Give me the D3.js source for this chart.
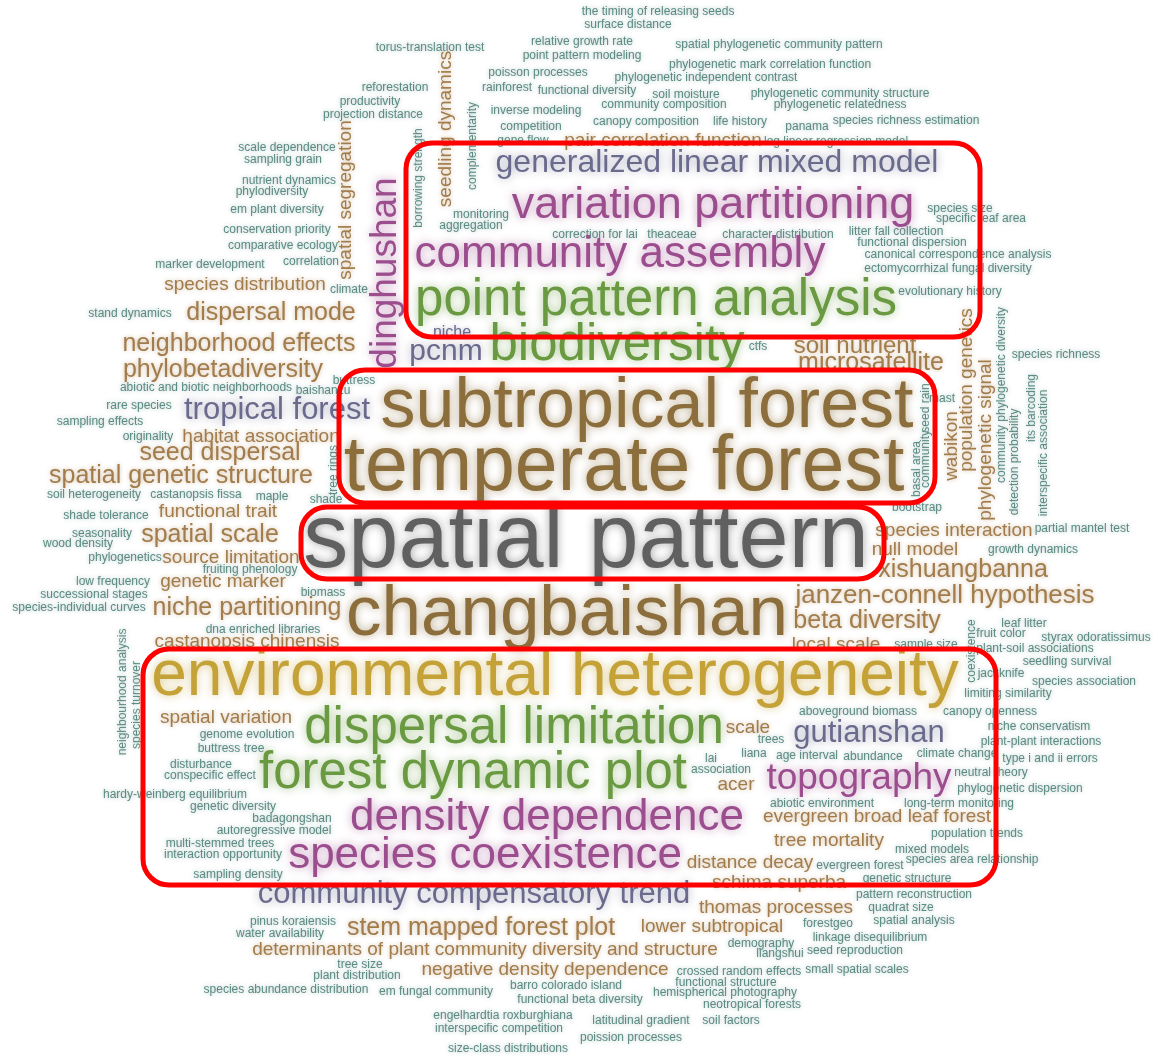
<!DOCTYPE html>
<meta charset="utf-8">
<script src="https://d3js.org/d3.v7.min.js"></script>
<style>
  body { margin: 0; background: #fff; }
  text { font-family: "Liberation Sans", Arial, sans-serif; }
</style>
<body>
<svg id="cloud" width="1153" height="1056"></svg>
<script>
// each word: [text, weight, x, y, rotate]  (x,y = layout position from the cloud)
var tealWords = [
  ["the timing of releasing seeds",1,658,15,0], ["surface distance",1,628,28,0],
  ["relative growth rate",1,582,45,0], ["spatial phylogenetic community pattern",1,779,48,0],
  ["torus-translation test",1,430,51,0], ["point pattern modeling",1,582,59,0],
  ["phylogenetic mark correlation function",1,770,68,0], ["poisson processes",1,538,76,0],
  ["phylogenetic independent contrast",1,706,81,0], ["reforestation",1,395,91,0],
  ["rainforest",1,507,91,0], ["functional diversity",1,587,94,0],
  ["soil moisture",1,686,98,0], ["phylogenetic community structure",1,840,97,0],
  ["productivity",1,370,105,0], ["community composition",1,664,108,0],
  ["phylogenetic relatedness",1,840,108,0], ["inverse modeling",1,536,114,0],
  ["projection distance",1,373,118,0], ["canopy composition",1,646,125,0],
  ["life history",1,740,125,0], ["species richness estimation",1,906,124,0],
  ["panama",1,807,130,0], ["competition",1,531,130,0],
  ["gene flow",1,523,144,0], ["log linear regression model",1,836,145,0],
  ["scale dependence",1,287,151,0], ["sampling grain",1,283,163,0],
  ["nutrient dynamics",1,289,184,0], ["phylodiversity",1,272,195,0],
  ["em plant diversity",1,277,213,0], ["conservation priority",1,277,233,0],
  ["comparative ecology",1,283,249,0], ["correlation",1,311,265,0],
  ["marker development",1,210,268,0], ["climate",1,349,293,0],
  ["stand dynamics",1,130,317,0], ["borrowing strength",1,422,178,-90],
  ["complementarity",1,476,146,-90], ["monitoring",1,481,218,0],
  ["aggregation",1,471,229,0], ["correction for lai",1,595,238,0],
  ["theaceae",1,672,238,0], ["character distribution",1,778,238,0],
  ["species size",1,960,212,0], ["specific leaf area",1,981,222,0],
  ["litter fall collection",1,896,235,0], ["functional dispersion",1,912,246,0],
  ["canonical correspondence analysis",1,958,258,0], ["ectomycorrhizal fungal diversity",1,948,272,0],
  ["evolutionary history",1,950,295,0], ["ctfs",1,758,350,0],
  ["species richness",1,1056,358,0], ["abiotic and biotic neighborhoods",1,206,391,0],
  ["baishanzu",1,323,394,0], ["buttress",1,354,384,0],
  ["rare species",1,139,409,0], ["sampling effects",1,100,425,0],
  ["originality",1,148,440,0], ["soil heterogeneity",1,94,498,0],
  ["castanopsis fissa",1,196,498,0], ["maple",1,272,500,0],
  ["tree rings",1,337,470,-90], ["shade",1,326,503,0],
  ["shade tolerance",1,106,519,0], ["seasonality",1,102,537,0],
  ["wood density",1,78,547,0], ["phylogenetics",1,125,561,0],
  ["fruiting phenology",1,250,573,0], ["low frequency",1,113,585,0],
  ["biomass",1,323,596,0], ["successional stages",1,94,598,0],
  ["species-individual curves",1,79,611,0], ["dna enriched libraries",1,263,633,0],
  ["neighbourhood analysis",1,126,692,-90], ["species turnover",1,140,705,-90],
  ["genome evolution",1,247,738,0], ["buttress tree",1,231,752,0],
  ["disturbance",1,201,768,0], ["conspecific effect",1,210,779,0],
  ["hardy-weinberg equilibrium",1,175,798,0], ["genetic diversity",1,233,810,0],
  ["badagongshan",1,292,822,0], ["autoregressive model",1,274,834,0],
  ["multi-stemmed trees",1,220,847,0], ["interaction opportunity",1,223,858,0],
  ["sampling density",1,238,878,0], ["pinus koraiensis",1,293,925,0],
  ["water availability",1,280,937,0], ["tree size",1,360,968,0],
  ["plant distribution",1,357,979,0], ["species abundance distribution",1,286,993,0],
  ["em fungal community",1,436,995,0], ["barro colorado island",1,566,989,0],
  ["functional beta diversity",1,580,1003,0], ["engelhardtia roxburghiana",1,503,1019,0],
  ["latitudinal gradient",1,641,1024,0], ["soil factors",1,731,1024,0],
  ["interspecific competition",1,499,1032,0], ["poission processes",1,631,1041,0],
  ["size-class distributions",1,508,1052,0], ["crossed random effects",1,739,975,0],
  ["functional structure",1,726,986,0], ["hemispherical photography",1,725,996,0],
  ["neotropical forests",1,752,1008,0], ["demography",1,761,947,0],
  ["liangshui",1,780,957,0], ["phylogenetic dispersion",1,1020,792,0],
  ["abiotic environment",1,822,807,0], ["long-term monitoring",1,959,807,0],
  ["population trends",1,977,837,0], ["mixed models",1,932,853,0],
  ["species area relationship",1,972,863,0], ["evergreen forest",1,860,869,0],
  ["genetic structure",1,907,882,0], ["pattern reconstruction",1,914,898,0],
  ["quadrat size",1,901,911,0], ["spatial analysis",1,914,924,0],
  ["forestgeo",1,828,927,0], ["linkage disequilibrium",1,870,941,0],
  ["seed reproduction",1,855,954,0], ["small spatial scales",1,857,973,0],
  ["partial mantel test",1,1082,532,0], ["growth dynamics",1,1033,553,0],
  ["sample size",1,926,648,0], ["coexistence",1,975,651,-90],
  ["leaf litter",1,1024,627,0], ["fruit color",1,1001,637,0],
  ["styrax odoratissimus",1,1096,641,0], ["plant-soil associations",1,1035,652,0],
  ["seedling survival",1,1067,665,0], ["jackknife",1,1001,677,0],
  ["species association",1,1084,685,0], ["limiting similarity",1,1008,697,0],
  ["aboveground biomass",1,858,715,0], ["canopy openness",1,990,715,0],
  ["niche conservatism",1,1039,730,0], ["plant-plant interactions",1,1041,745,0],
  ["trees",1,771,743,0], ["age interval",1,807,759,0],
  ["abundance",1,873,760,0], ["climate change",1,957,757,0],
  ["type i and ii errors",1,1050,762,0], ["neutral theory",1,991,776,0],
  ["liana",1,754,757,0], ["lai",1,711,762,0], ["association",1,721,773,0],
  ["seed rain",1,929,408,-90], ["community",1,929,459,-90],
  ["basal area",1,920,469,-90], ["mast",1,942,402,0], ["bootstrap",1,917,511,0],
  ["community phylogenetic diversity",1,1005,395,-90], ["detection probability",1,1018,462,-90],
  ["its barcoding",1,1035,408,-90], ["interspecific association",1,1047,453,-90]
];

var tanWords = [
  ["pair correlation function",8,663,146,0], ["seedling dynamics",8,451,129,-90],
  ["spatial segregation",8,351,200,-90], ["species distribution",8,245,290,0],
  ["dispersal mode",14,271,320,0], ["neighborhood effects",14,239,351,0],
  ["phylobetadiversity",14,223,377,0], ["habitat association",8,261,442,0],
  ["seed dispersal",14,220,460,0], ["spatial genetic structure",14,181,483,0],
  ["functional trait",8,218,517,0], ["spatial scale",14,210,542,0],
  ["source limitation",8,231,563,0], ["genetic marker",8,223,587,0],
  ["niche partitioning",14,247,615,0], ["castanopsis chinensis",8,247,647,0],
  ["spatial variation",8,226,723,0],
  ["determinants of plant community diversity and structure",8,485,955,0],
  ["stem mapped forest plot",14,481,935,0], ["negative density dependence",8,545,975,0],
  ["lower subtropical",8,712,932,0], ["thomas processes",8,776,913,0],
  ["distance decay",8,750,868,0], ["schima superba",8,779,888,0],
  ["tree mortality",8,829,846,0], ["evergreen broad leaf forest",8,877,822,0],
  ["acer",8,736,790,0], ["scale",8,748,733,0], ["local scale",8,836,650,0],
  ["beta diversity",14,867,628,0], ["janzen-connell hypothesis",15,945,603,0],
  ["xishuangbanna",14,963,577,0], ["null model",8,915,555,0],
  ["species interaction",8,954,536,0], ["soil nutrient",13,855,353,0],
  ["microsatellite",14,871,370,0], ["wabikon",8,957,446,-90],
  ["population genetics",8,972,390,-90], ["phylogenetic signal",8,991,440,-90]
];

var purpleWords = [
  ["variation partitioning",34,713,218,0], ["community assembly",33,620,267,0],
  ["dinghushan",26,396,273,-90], ["density dependence",33,547,830,0],
  ["species coexistence",33,485,868,0], ["topography",26,859,789,0]
];

var greenWords = [
  ["point pattern analysis",40,656,315,0], ["biodiversity",40,617,360,0],
  ["dispersal limitation",40,514,743,0], ["forest dynamic plot",40,473,788,0]
];

var slateWords = [
  ["generalized linear mixed model",21,717,172,0], ["pcnm",19,446,360,0],
  ["niche",5,452,337,0], ["tropical forest",20,277,419,0],
  ["gutianshan",20,869,742,0], ["community compensatory trend",20,474,903,0]
];

var oliveWords = [
  ["subtropical forest",59,647,427,0], ["temperate forest",66,624,490,0],
  ["changbaishan",60,567,635,0]
];
var goldWords = [["environmental heterogeneity",53,555,695,0]];
var greyWords = [["spatial pattern",79,586,567,0]];

// red highlight boxes: [x0, y0, x1, y1]
var boxes = [[406,143,980,337],[339,370,935,503],[301,507,884,579],[143,649,996,885]];

var svg = d3.select("#cloud"),
    width = +svg.attr("width"),
    height = +svg.attr("height");

var x = d3.scaleLinear().domain([0, 1153]).range([0, width]);
var y = d3.scaleLinear().domain([0, 1056]).range([0, height]);
var size = d3.scaleLinear().domain([1, 78]).range([12, 89]);

// soft halo round every word
var defs = svg.append("defs");
[["glowS", 2, 0.5], ["glowL", 5, 0.6]].forEach(function(f) {
  var flt = defs.append("filter").attr("id", f[0])
      .attr("x", "-10%").attr("y", "-40%").attr("width", "120%").attr("height", "180%");
  flt.append("feGaussianBlur").attr("in", "SourceGraphic").attr("stdDeviation", f[1]).attr("result", "b");
  flt.append("feComponentTransfer").attr("in", "b").attr("result", "b2")
     .append("feFuncA").attr("type", "linear").attr("slope", f[2]);
  var m = flt.append("feMerge");
  m.append("feMergeNode").attr("in", "b2");
  m.append("feMergeNode").attr("in", "SourceGraphic");
});

var groups = [
  {words: tealWords, color: "#5b8b83"},
  {words: tanWords, color: "#a27c4b"},
  {words: slateWords, color: "#6b6a8d"},
  {words: purpleWords, color: "#9b4d8e"},
  {words: greenWords, color: "#69993f"},
  {words: oliveWords, color: "#8b6e3b"},
  {words: goldWords, color: "#c4a238"},
  {words: greyWords, color: "#606060"}
];

groups.forEach(function(g) {
  svg.append("g")
    .selectAll("text")
    .data(g.words)
    .enter()
    .append("text")
      .attr("transform", function(d) { return "translate(" + x(d[2]) + "," + y(d[3]) + ") rotate(" + d[4] + ")"; })
      .attr("text-anchor", "middle")
      .attr("font-size", function(d) { return size(d[1]) + "px"; })
      .attr("fill", g.color)
      .attr("filter", function(d) { return size(d[1]) >= 30 ? "url(#glowL)" : "url(#glowS)"; })
      .text(function(d) { return d[0]; });
});

svg.append("g")
  .selectAll("rect")
  .data(boxes)
  .enter()
  .append("rect")
    .attr("x", function(d) { return x(d[0]); })
    .attr("y", function(d) { return y(d[1]); })
    .attr("width", function(d) { return x(d[2]) - x(d[0]); })
    .attr("height", function(d) { return y(d[3]) - y(d[1]); })
    .attr("rx", 26)
    .attr("fill", "none")
    .attr("stroke", "#ff0000")
    .attr("stroke-width", 5);
</script>
</body>
